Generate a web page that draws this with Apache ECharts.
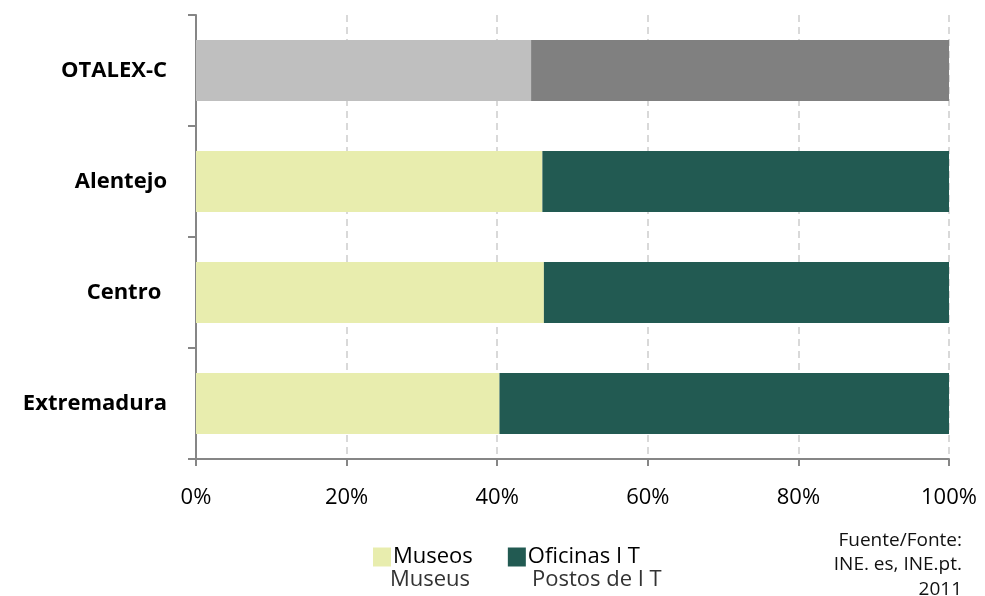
<!DOCTYPE html>
<html>
<head>
<meta charset="utf-8">
<script src="https://cdn.jsdelivr.net/npm/echarts@6/dist/echarts.min.js"></script>
<style>
  html, body { margin: 0; padding: 0; background: #fff; }
  #main { width: 985px; height: 596px; }
</style>
</head>
<body>
<div id="main"></div>
<script>
// regiones (de arriba a abajo)
const categories = ['OTALEX-C', 'Alentejo', 'Centro ', 'Extremadura']
// % museos / oficinas de turismo
const museos = [44.5, 46.0, 46.2, 40.3]
const oficinas = [55.5, 54.0, 53.8, 59.7]
const xTicks = [0, 20, 40, 60, 80, 100]

const font = '"Open Sans", "Noto Sans", sans-serif'
const chart = echarts.init(document.getElementById('main'))

// OTALEX-C va en gris
function paint (values, color, grey) {
  return values.map(function (v, i) {
    return { value: v, itemStyle: { color: i === 0 ? grey : color } }
  })
}

chart.setOption({
  animation: false,
  textStyle: { fontFamily: font },
  grid: { left: 196, right: 36, top: 15, bottom: 137 },
  legend: {
    left: 368,
    top: 541,
    itemWidth: 18,
    itemHeight: 19,
    itemGap: 35,
    icon: 'rect',
    selectedMode: false,
    textStyle: { fontSize: 22, color: '#000', fontFamily: font, padding: [0, 0, 0, -3] },
    data: ['Museos', 'Oficinas I T']
  },
  xAxis: {
    type: 'value',
    min: xTicks[0],
    max: xTicks[xTicks.length - 1],
    interval: 20,
    axisLine: { show: true, lineStyle: { color: '#868686', width: 2 } },
    axisTick: { show: true, length: 7, lineStyle: { color: '#868686', width: 2 } },
    axisLabel: { formatter: '{value}%', fontSize: 22, color: '#000', margin: 28, fontFamily: font },
    splitLine: { show: true, lineStyle: { color: '#D9D9D9', type: [7, 5], width: 2 } }
  },
  yAxis: {
    type: 'category',
    inverse: true,
    data: categories,
    axisLine: { show: true, lineStyle: { color: '#868686', width: 2 } },
    axisTick: { show: true, length: 8, lineStyle: { color: '#868686', width: 2 } },
    axisLabel: { fontSize: 22, fontWeight: 'bold', color: '#000', margin: 29, fontFamily: font }
  },
  series: [
    {
      name: 'Museos',
      type: 'bar',
      stack: 'total',
      barWidth: '55%',
      itemStyle: { color: '#E8EDAE' },
      data: paint(museos, '#E8EDAE', '#BFBFBF')
    },
    {
      name: 'Oficinas I T',
      type: 'bar',
      stack: 'total',
      barWidth: '55%',
      itemStyle: { color: '#225A52' },
      data: paint(oficinas, '#225A52', '#808080')
    }
  ],
  graphic: [
    { type: 'text', left: 390, top: 569, style: { text: 'Museus', font: '22px ' + font, fill: '#333' } },
    { type: 'text', left: 532, top: 569, style: { text: 'Postos de I T', font: '22px ' + font, fill: '#333' } },
    { type: 'text', right: 23, top: 531, style: { text: 'Fuente/Fonte:', font: '19px ' + font, fill: '#111' } },
    { type: 'text', right: 23, top: 555, style: { text: 'INE. es, INE.pt.', font: '19px ' + font, fill: '#111' } },
    { type: 'text', right: 23, top: 580, style: { text: '2011', font: '19px ' + font, fill: '#111' } }
  ]
})
</script>
</body>
</html>
